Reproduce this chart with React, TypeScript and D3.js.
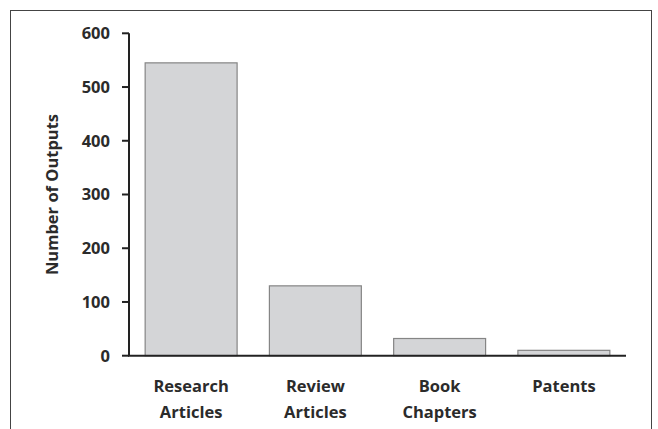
import React from "react";
import * as d3 from "d3";

const categories: string[][] = [["Research", "Articles"], ["Review", "Articles"], ["Book", "Chapters"], ["Patents"]];
const values: number[] = [545, 130, 32, 10];
const yTicks: number[] = [0, 100, 200, 300, 400, 500, 600];
const yTitle = "Number of Outputs";

export default function App() {
  const W = 658, H = 429;
  const x0 = 129, x1 = 626, yTop = 33.3, yBot = 355.7;
  const keys = categories.map((c) => c.join(" "));
  const x = d3.scaleBand<string>().domain(keys).range([x0, x1]).paddingInner(0.26).paddingOuter(0.13);
  const y = d3.scaleLinear().domain([0, 600]).range([yBot, yTop]);
  const font = "'Open Sans', sans-serif";
  return (
    <svg width={W} height={H} style={{ position: "absolute", left: 0, top: 0, background: "#fff" }}>
      <rect x={10.5} y={10.5} width={641} height={440} fill="none" stroke="#444" strokeWidth={1} />
      {values.map((v, i) => (
        <rect key={i} x={x(keys[i])} y={y(v)} width={x.bandwidth()} height={y(0) - y(v)} fill="#d4d5d7" stroke="#858585" strokeWidth={1.2} />
      ))}
      <line x1={x0} x2={x0} y1={yTop} y2={yBot} stroke="#222" strokeWidth={2} />
      <line x1={x0 - 1} x2={x1} y1={yBot} y2={yBot} stroke="#222" strokeWidth={2} />
      {yTicks.map((t) => (
        <g key={t}>
          <line x1={x0 - 7} x2={x0} y1={y(t)} y2={y(t)} stroke="#222" strokeWidth={2} />
          <text x={110} y={y(t)} dy="0.36em" textAnchor="end" fontFamily={font} fontWeight="bold" fontSize={16.5} fill="#2b2b2b">{t}</text>
        </g>
      ))}
      <text transform={`translate(58,${(yTop + yBot) / 2}) rotate(-90)`} textAnchor="middle" fontFamily={font} fontWeight="bold" fontSize={16.5} fill="#2b2b2b">{yTitle}</text>
      {categories.map((lines, i) => (
        <text key={i} x={(x(keys[i]) as number) + x.bandwidth() / 2} y={392} textAnchor="middle" fontFamily={font} fontWeight="bold" fontSize={16.5} fill="#2b2b2b">
          {lines.map((l, j) => (
            <tspan key={j} x={(x(keys[i]) as number) + x.bandwidth() / 2} dy={j === 0 ? 0 : 26}>{l}</tspan>
          ))}
        </text>
      ))}
    </svg>
  );
}
